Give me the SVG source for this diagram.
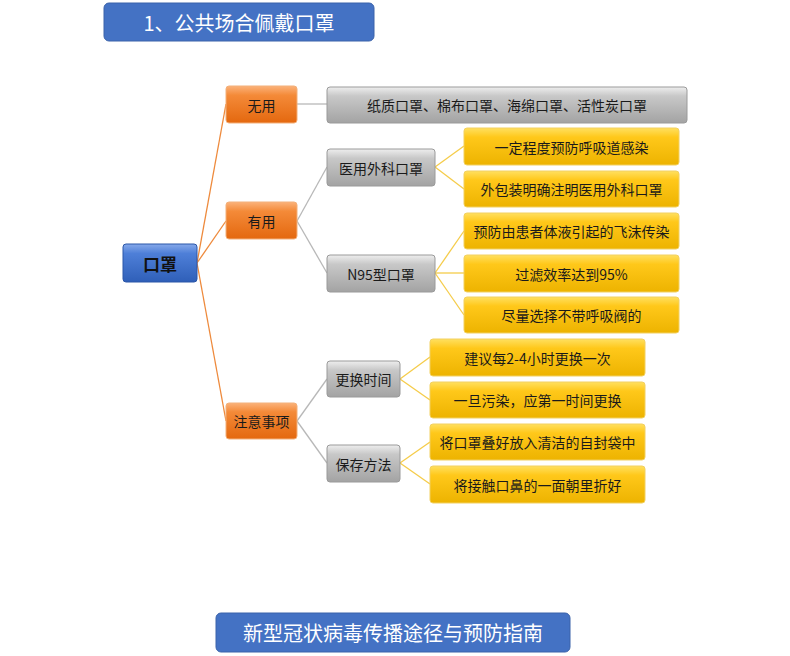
<svg xmlns="http://www.w3.org/2000/svg" width="790" height="656" viewBox="0 0 790 656">
<defs>
<linearGradient id="gOrange" x1="0" y1="0" x2="0" y2="1">
<stop offset="0" stop-color="#FBB27A"/><stop offset="0.25" stop-color="#F48A38"/><stop offset="1" stop-color="#E4680F"/>
</linearGradient>
<linearGradient id="gBlue" x1="0" y1="0" x2="0" y2="1">
<stop offset="0" stop-color="#86A9EA"/><stop offset="0.25" stop-color="#4E7FD8"/><stop offset="1" stop-color="#2F5FB8"/>
</linearGradient>
<linearGradient id="gGray" x1="0" y1="0" x2="0" y2="1">
<stop offset="0" stop-color="#EEEEEE"/><stop offset="0.25" stop-color="#C8C8C8"/><stop offset="1" stop-color="#A3A3A3"/>
</linearGradient>
<linearGradient id="gYellow" x1="0" y1="0" x2="0" y2="1">
<stop offset="0" stop-color="#FFE060"/><stop offset="0.25" stop-color="#FFC81A"/><stop offset="1" stop-color="#EDB300"/>
</linearGradient>
<style>
text{font-family:"Noto Sans CJK SC","Microsoft YaHei",sans-serif;text-anchor:middle;dominant-baseline:central;}
.t{font-size:14px;fill:#1a1a1a;}
.hdr{fill:#4472C4;stroke:#3A62AA;stroke-width:1;}
.hdrt{font-size:20px;fill:#ffffff;}
.root{fill:url(#gBlue);stroke:#2A56A8;stroke-width:1;}
.org{fill:url(#gOrange);stroke:#F3B07A;stroke-width:1;}
.gry{fill:url(#gGray);stroke:#9A9A9A;stroke-width:1;}
.yel{fill:url(#gYellow);stroke:#F2D060;stroke-width:1;}
.co{stroke:#EE8A3C;stroke-width:1.3;fill:none;}
.cg{stroke:#B8B8B8;stroke-width:1.3;fill:none;}
.cy{stroke:#F5CC4A;stroke-width:1.3;fill:none;}
</style>
</defs>
<rect width="790" height="656" fill="#ffffff"/>
<g id="title">
<rect class="hdr" x="104" y="3" width="270" height="38" rx="5"/>
<text class="hdrt" x="239" y="22">1、公共场合佩戴口罩</text>
</g>
<g id="connectors">
<line class="co" x1="197" y1="263" x2="226" y2="104"/>
<line class="co" x1="197" y1="263" x2="226" y2="221"/>
<line class="co" x1="197" y1="263" x2="226" y2="421"/>
<line class="cg" x1="297" y1="104" x2="327" y2="104"/>
<line class="cg" x1="297" y1="221" x2="327" y2="167"/>
<line class="cg" x1="297" y1="221" x2="327" y2="273"/>
<line class="cg" x1="297" y1="421" x2="327" y2="379"/>
<line class="cg" x1="297" y1="421" x2="327" y2="463"/>
<line class="cy" x1="435" y1="167" x2="464" y2="146"/>
<line class="cy" x1="435" y1="167" x2="464" y2="189"/>
<line class="cy" x1="435" y1="273" x2="464" y2="231"/>
<line class="cy" x1="435" y1="273" x2="464" y2="273"/>
<line class="cy" x1="435" y1="273" x2="464" y2="315"/>
<line class="cy" x1="400" y1="379" x2="430" y2="357"/>
<line class="cy" x1="400" y1="379" x2="430" y2="400"/>
<line class="cy" x1="400" y1="463" x2="430" y2="442"/>
<line class="cy" x1="400" y1="463" x2="430" y2="484"/>
</g>
<g id="n-root"><rect class="root" x="123" y="244" width="74" height="38" rx="3"/><text x="160" y="263" font-size="17" font-weight="bold" fill="#111">口罩</text></g>
<g id="n-wuyong"><rect class="org" x="226" y="86" width="71" height="37" rx="3"/><text class="t" x="261.5" y="104.5">无用</text></g>
<g id="n-youyong"><rect class="org" x="226" y="202" width="71" height="37" rx="3"/><text class="t" x="261.5" y="220.5">有用</text></g>
<g id="n-zhuyi"><rect class="org" x="226" y="403" width="71" height="36" rx="3"/><text class="t" x="261.5" y="421">注意事项</text></g>
<g id="n-types"><rect class="gry" x="327" y="87" width="360" height="36" rx="3"/><text class="t" x="507" y="105">纸质口罩、棉布口罩、海绵口罩、活性炭口罩</text></g>
<g id="n-surgical"><rect class="gry" x="327" y="149" width="108" height="37" rx="3"/><text class="t" x="381" y="167.5">医用外科口罩</text></g>
<g id="n-n95"><rect class="gry" x="327" y="255" width="108" height="37" rx="3"/><text class="t" x="381" y="273.5">N95型口罩</text></g>
<g id="n-replace"><rect class="gry" x="327" y="361" width="73" height="36" rx="3"/><text class="t" x="363.5" y="379">更换时间</text></g>
<g id="n-store"><rect class="gry" x="327" y="445" width="73" height="37" rx="3"/><text class="t" x="363.5" y="463.5">保存方法</text></g>
<g id="n-s1"><rect class="yel" x="464" y="128" width="215" height="37" rx="3"/><text class="t" x="571.5" y="146.5">一定程度预防呼吸道感染</text></g>
<g id="n-s2"><rect class="yel" x="464" y="171" width="215" height="36" rx="3"/><text class="t" x="571.5" y="189">外包装明确注明医用外科口罩</text></g>
<g id="n-n1"><rect class="yel" x="464" y="213" width="215" height="36" rx="3"/><text class="t" x="571.5" y="231">预防由患者体液引起的飞沫传染</text></g>
<g id="n-n2"><rect class="yel" x="464" y="255" width="215" height="37" rx="3"/><text class="t" x="571.5" y="273.5">过滤效率达到95%</text></g>
<g id="n-n3"><rect class="yel" x="464" y="297" width="215" height="36" rx="3"/><text class="t" x="571.5" y="315">尽量选择不带呼吸阀的</text></g>
<g id="n-r1"><rect class="yel" x="430" y="339" width="215" height="37" rx="3"/><text class="t" x="537.5" y="357.5">建议每2-4小时更换一次</text></g>
<g id="n-r2"><rect class="yel" x="430" y="382" width="215" height="36" rx="3"/><text class="t" x="537.5" y="400">一旦污染，应第一时间更换</text></g>
<g id="n-k1"><rect class="yel" x="430" y="424" width="215" height="36" rx="3"/><text class="t" x="537.5" y="442">将口罩叠好放入清洁的自封袋中</text></g>
<g id="n-k2"><rect class="yel" x="430" y="466" width="215" height="37" rx="3"/><text class="t" x="537.5" y="484.5">将接触口鼻的一面朝里折好</text></g>
<g id="footer">
<rect class="hdr" x="216" y="613" width="354" height="39" rx="5"/>
<text class="hdrt" x="393" y="632.5" font-size="21">新型冠状病毒传播途径与预防指南</text>
</g>
</svg>
